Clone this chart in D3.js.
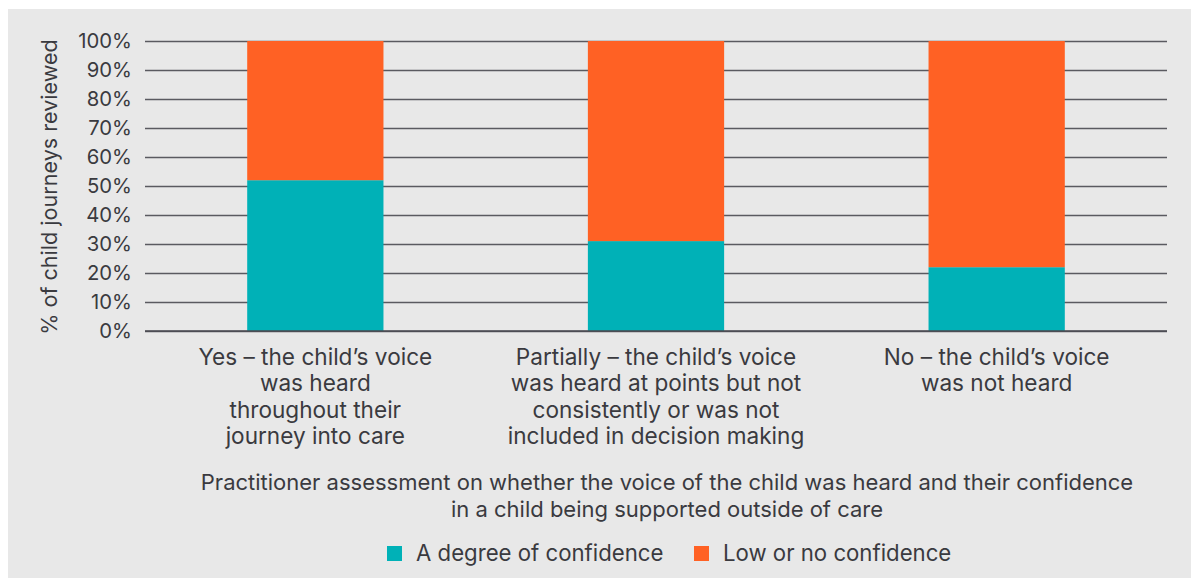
<!DOCTYPE html>
<html><head><meta charset="utf-8">
<script src="https://cdn.jsdelivr.net/npm/d3@7"></script>
<style>
html,body{margin:0;padding:0;background:#fff;}
text{font-family:Inter,"Noto Sans",sans-serif;fill:#3a3a3f;}
</style></head>
<body>
<svg id="c" width="1191" height="578"></svg>
<script>
const categories = [
  ["Yes \u2013 the child\u2019s voice","was heard","throughout their","journey into care"],
  ["Partially \u2013 the child\u2019s voice","was heard at points but not","consistently or was not","included in decision making"],
  ["No \u2013 the child\u2019s voice","was not heard"]
];
const seriesNames = ["A degree of confidence","Low or no confidence"];
const confidence = [52, 31, 22];
const lowConfidence = [48, 69, 78];
const yTicks = [0,10,20,30,40,50,60,70,80,90,100];
const yTitle = "% of child journeys reviewed";
const xTitle = ["Practitioner assessment on whether the voice of the child was heard and their confidence","in a child being supported outside of care"];
const colors = ["#00b1b7","#ff6124"];

const svg = d3.select("#c");
svg.append("rect").attr("x",8).attr("y",9).attr("width",1183).attr("height",569).attr("fill","#e8e8e8");

const m = {left:145, right:1167, top:41, bottom:331};
const x = d3.scaleBand().domain(d3.range(categories.length)).range([m.left,m.right]).paddingInner(0.6).paddingOuter(0.3);
const y = d3.scaleLinear().domain([0,100]).range([m.bottom,m.top]);

// gridlines
const yAxis = d3.axisLeft(y).tickValues(yTicks).tickFormat(d=>d+"%").tickSize(-(m.right-m.left)).tickPadding(13);
const ga = svg.append("g").attr("transform",`translate(${m.left},0)`).call(yAxis);
ga.select(".domain").remove();
ga.selectAll(".tick line").attr("stroke","#5a5a60").attr("stroke-width",1.4);
ga.selectAll(".tick text").attr("font-size",20.3).attr("fill","#3a3a3f").attr("font-family","Inter,'Noto Sans',sans-serif");

// stacked bars
const rows = categories.map((c,i)=>({i, a:confidence[i], b:lowConfidence[i]}));
const stack = d3.stack().keys(["a","b"])(rows);
svg.append("g").selectAll("g").data(stack).join("g").attr("fill",(d,k)=>colors[k])
  .selectAll("rect").data(d=>d).join("rect")
  .attr("x",d=>x(d.data.i)).attr("width",x.bandwidth())
  .attr("y",d=>y(d[1])).attr("height",d=>y(d[0])-y(d[1]));

// baseline
svg.append("line").attr("x1",m.left).attr("x2",m.right).attr("y1",y(0)).attr("y2",y(0)).attr("stroke","#4a4a50").attr("stroke-width",1.6);

// category labels
categories.forEach((lines,i)=>{
  const t = svg.append("text").attr("text-anchor","middle").attr("font-size",22.6);
  lines.forEach((l,j)=>t.append("tspan").attr("x",x(i)+x.bandwidth()/2).attr("y",365+j*26.3).text(l));
});

// y title
svg.append("text").attr("transform",`translate(57,${(m.top+m.bottom)/2+1}) rotate(-90)`).attr("text-anchor","middle").attr("font-size",21.6).text(yTitle);

// x title
xTitle.forEach((l,j)=>svg.append("text").attr("x",667).attr("y",490+j*26.5).attr("text-anchor","middle").attr("font-size",22).text(l));

// legend
const legX = [387, 694];
seriesNames.forEach((s,k)=>{
  svg.append("rect").attr("x",legX[k]).attr("y",546).attr("width",15).attr("height",15).attr("fill",colors[k]);
  svg.append("text").attr("x",legX[k]+29).attr("y",561).attr("font-size",22.2).text(s);
});
</script>
</body></html>
